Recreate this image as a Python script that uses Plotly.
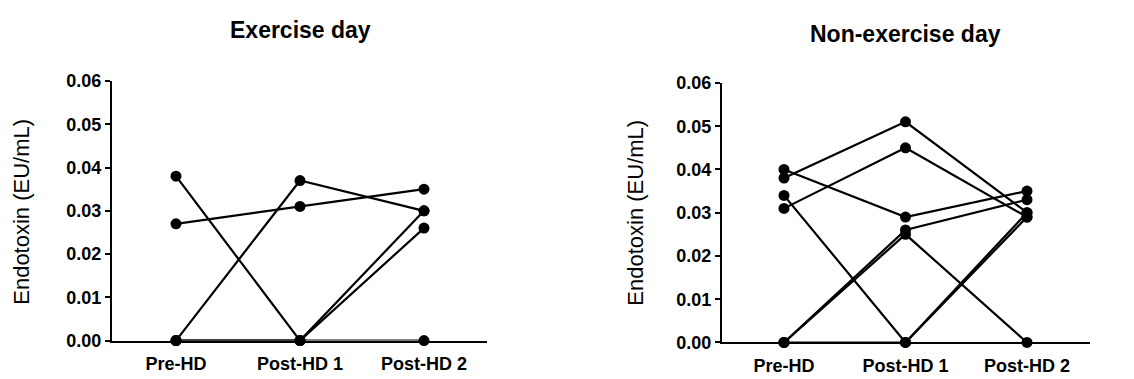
import plotly.graph_objects as go

categories = ["Pre-HD", "Post-HD 1", "Post-HD 2"]

# Exercise day: one list per subject (Pre-HD, Post-HD 1, Post-HD 2)
exercise_subjects = [
    [0.038, 0.000, 0.030],
    [0.027, 0.031, 0.035],
    [0.000, 0.037, 0.030],
    [0.000, 0.000, 0.026],
    [0.000, 0.000, 0.000],
]

# Non-exercise day
nonexercise_subjects = [
    [0.038, 0.051, 0.030],
    [0.031, 0.045, 0.029],
    [0.040, 0.029, 0.035],
    [0.000, 0.026, 0.033],
    [0.000, 0.025, 0.000],
    [0.034, 0.000, 0.030],
    [0.000, 0.000, 0.029],
]

y_ticks = [0.00, 0.01, 0.02, 0.03, 0.04, 0.05, 0.06]
titles = ["Exercise day", "Non-exercise day"]
y_title = "Endotoxin (EU/mL)"

W, H = 1134, 379
FONT = "Liberation Sans, Arial, sans-serif"

fig = go.Figure()

def px_x(p):
    return p / W

def px_y(p):
    return (H - p) / H

for subj in exercise_subjects:
    fig.add_trace(go.Scatter(
        x=categories, y=subj, mode="lines+markers", xaxis="x", yaxis="y",
        line=dict(color="black", width=2.2),
        marker=dict(color="black", size=11),
        cliponaxis=False, showlegend=False, hoverinfo="skip"))

for subj in nonexercise_subjects:
    fig.add_trace(go.Scatter(
        x=categories, y=subj, mode="lines+markers", xaxis="x2", yaxis="y2",
        line=dict(color="black", width=2.2),
        marker=dict(color="black", size=11),
        cliponaxis=False, showlegend=False, hoverinfo="skip"))

L_axis, L_pre, L_step = 112.0, 176.0, 124.0
L_end = 487.0
R_axis, R_pre, R_step = 722.0, 784.0, 121.5
R_end = 1090.0

def xrange(axis_px, pre_px, step, end_px):
    return [(axis_px - pre_px) / step, (end_px - pre_px) / step]

tickfont = dict(family=FONT, size=18, color="black", weight="bold")

common_x = dict(type="category", showline=True, linecolor="black", linewidth=2,
                ticks="outside", ticklen=6, tickcolor="rgba(0,0,0,0)",
                showgrid=False, zeroline=False, tickfont=tickfont,
                fixedrange=True)
common_y = dict(showline=True, linecolor="black", linewidth=2, ticks="outside",
                ticklen=5, tickwidth=2, tickcolor="black", showgrid=False,
                zeroline=False, tickvals=y_ticks, tickformat=".2f",
                tickfont=tickfont, range=[0, 0.06], fixedrange=True)

fig.update_layout(
    width=W, height=H,
    margin=dict(l=0, r=0, t=0, b=0),
    paper_bgcolor="white", plot_bgcolor="white",
    xaxis=dict(common_x, domain=[px_x(L_axis), px_x(L_end)],
               range=xrange(L_axis, L_pre, L_step, L_end), anchor="y"),
    yaxis=dict(common_y, domain=[px_y(349), px_y(75)], anchor="x"),
    xaxis2=dict(common_x, domain=[px_x(R_axis), px_x(R_end)],
                range=xrange(R_axis, R_pre, R_step, R_end), anchor="y2"),
    yaxis2=dict(common_y, domain=[px_y(351), px_y(77)], anchor="x2"),
)

ann = [
    dict(text=titles[0], x=px_x(L_pre + L_step), y=px_y(21), xref="paper", yref="paper",
         showarrow=False, xanchor="center", yanchor="middle",
         font=dict(family=FONT, size=23, color="black", weight="bold")),
    dict(text=titles[1], x=px_x(R_pre + R_step), y=px_y(25), xref="paper", yref="paper",
         showarrow=False, xanchor="center", yanchor="middle",
         font=dict(family=FONT, size=23, color="black", weight="bold")),
    dict(text=y_title, x=px_x(22), y=px_y(213), xref="paper", yref="paper",
         showarrow=False, textangle=-90, xanchor="center", yanchor="middle",
         font=dict(family=FONT, size=22, color="black")),
    dict(text=y_title, x=px_x(636), y=px_y(214), xref="paper", yref="paper",
         showarrow=False, textangle=-90, xanchor="center", yanchor="middle",
         font=dict(family=FONT, size=22, color="black")),
]
fig.update_layout(annotations=ann)

fig.write_html("out.html", config={"displayModeBar": False},
               post_script="document.body.style.margin='0';")
